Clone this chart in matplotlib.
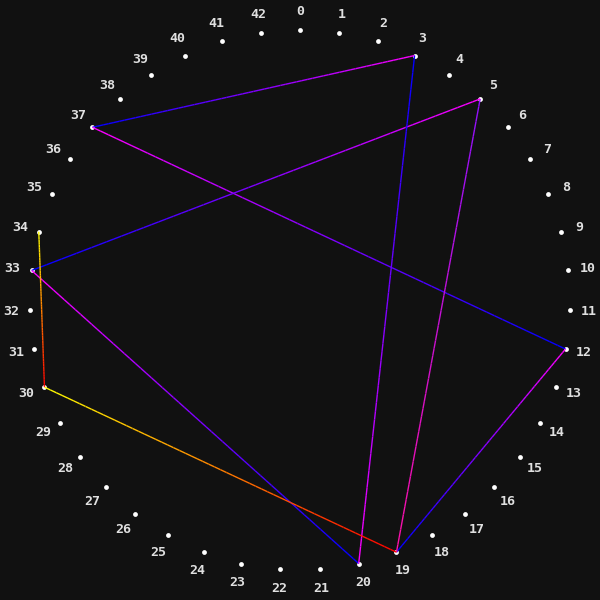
import numpy as np
import matplotlib
matplotlib.use("Agg")
import matplotlib.pyplot as plt
from matplotlib.collections import LineCollection
from matplotlib.colors import to_rgb

n_nodes = 43
labels = [str(i) for i in range(n_nodes)]

# edges: (from, to, colour at start, colour at end)
edge_from = [3, 37, 12, 19, 5, 33, 20, 34, 30]
edge_to = [37, 12, 19, 5, 33, 20, 3, 30, 19]
edge_c0 = ['#ff00ff', '#ff00ff', '#ff00ff', '#ff10a8', '#ff00ff', '#ff00ff', '#ff00ff', '#ffff00', '#ffff00']
edge_c1 = ['#0000ff', '#0000ff', '#0000ff', '#9010ff', '#0000ff', '#0000ff', '#0000ff', '#ff0000', '#ff0000']

bg = '#111111'
cx, cy, r, r_lab = 300, 300, 270, 289

fig = plt.figure(figsize=(6, 6), dpi=100, facecolor=bg)
ax = fig.add_axes([0, 0, 1, 1])
ax.set_facecolor(bg)
ax.set_xlim(0, 600)
ax.set_ylim(600, 0)
ax.axis('off')

ang = 2 * np.pi * np.arange(n_nodes) / n_nodes
xs = cx + r * np.sin(ang)
ys = cy - r * np.cos(ang)

ax.scatter(xs, ys, s=12, c='white', linewidths=0, zorder=2)

for i in range(n_nodes):
    ax.text(cx + r_lab * np.sin(ang[i]), cy - r_lab * np.cos(ang[i]) + 0.5, labels[i],
            ha='center', va='center', color='#e0e0e0', fontsize=9.5,
            fontweight='bold', family='DejaVu Sans Mono', zorder=3)

steps = 60
for a, b, c0, c1 in zip(edge_from, edge_to, edge_c0, edge_c1):
    t = np.linspace(0, 1, steps + 1)
    px = xs[a] + (xs[b] - xs[a]) * t
    py = ys[a] + (ys[b] - ys[a]) * t
    pts = np.column_stack([px, py]).reshape(-1, 1, 2)
    segs = np.concatenate([pts[:-1], pts[1:]], axis=1)
    tm = (t[:-1] + t[1:]) / 2
    col = np.outer(1 - tm, to_rgb(c0)) + np.outer(tm, to_rgb(c1))
    ax.add_collection(LineCollection(segs, colors=col, linewidths=1.0, zorder=4,
                                     capstyle='butt'))

plt.savefig('out.png', dpi=100, facecolor=bg)
